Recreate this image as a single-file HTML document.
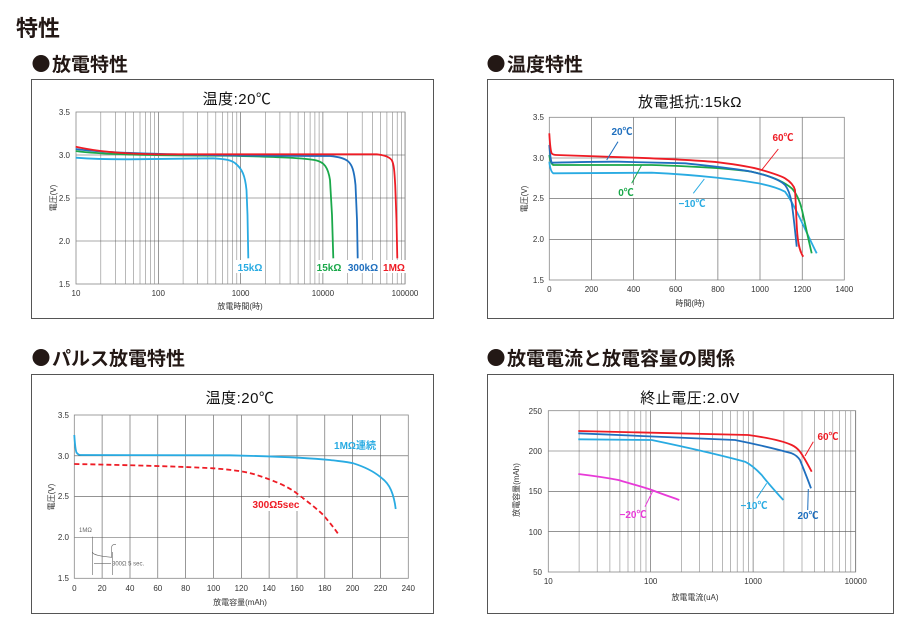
<!DOCTYPE html>
<html><head><meta charset="utf-8"><style>
html,body{margin:0;padding:0;background:#fff;width:907px;height:631px;overflow:hidden}
svg{display:block}
text{font-family:"Liberation Sans","Noto Sans CJK JP",sans-serif}
</style></head><body>
<svg width="907" height="631" viewBox="0 0 907 631" xmlns="http://www.w3.org/2000/svg">
<defs>
<g id="d1" stroke="#888" stroke-width="0.6">
<line x1="24.8" y1="0" x2="24.8" y2="172"/><line x1="39.3" y1="0" x2="39.3" y2="172"/><line x1="49.5" y1="0" x2="49.5" y2="172"/><line x1="57.5" y1="0" x2="57.5" y2="172"/><line x1="64" y1="0" x2="64" y2="172"/><line x1="69.5" y1="0" x2="69.5" y2="172"/><line x1="74.3" y1="0" x2="74.3" y2="172"/><line x1="78.5" y1="0" x2="78.5" y2="172"/><line x1="82.3" y1="0" x2="82.3" y2="172" stroke="#555"/>
</g>
<g id="d4" stroke="#888" stroke-width="0.6">
<line x1="30.8" y1="0" x2="30.8" y2="161.3"/><line x1="48.9" y1="0" x2="48.9" y2="161.3"/><line x1="61.6" y1="0" x2="61.6" y2="161.3"/><line x1="71.6" y1="0" x2="71.6" y2="161.3"/><line x1="79.7" y1="0" x2="79.7" y2="161.3"/><line x1="86.5" y1="0" x2="86.5" y2="161.3"/><line x1="92.5" y1="0" x2="92.5" y2="161.3"/><line x1="97.7" y1="0" x2="97.7" y2="161.3"/><line x1="102.4" y1="0" x2="102.4" y2="161.3" stroke="#555"/>
</g>
</defs>
<text x="16" y="36" font-size="22" font-weight="bold" fill="#231815">特性</text>
<g fill="#231815">
<circle cx="41" cy="63.5" r="8.5"/><circle cx="496" cy="63.5" r="8.5"/><circle cx="41" cy="357.5" r="8.5"/><circle cx="496" cy="357.5" r="8.5"/>
</g>
<text x="52" y="71" font-size="19" font-weight="bold" fill="#231815">放電特性</text>
<text x="507" y="71" font-size="19" font-weight="bold" fill="#231815">温度特性</text>
<text x="52" y="365" font-size="19" font-weight="bold" fill="#231815">パルス放電特性</text>
<text x="507" y="365" font-size="19" font-weight="bold" fill="#231815">放電電流と放電容量の関係</text>

<!-- boxes -->
<rect x="31.5" y="79.5" width="402" height="239" fill="none" stroke="#555" stroke-width="1"/>
<rect x="487.5" y="79.5" width="406" height="239" fill="none" stroke="#555" stroke-width="1"/>
<rect x="31.5" y="374.5" width="402" height="239" fill="none" stroke="#555" stroke-width="1"/>
<rect x="487.5" y="374.5" width="406" height="239" fill="none" stroke="#555" stroke-width="1"/>

<!-- Chart 1 -->
<text x="237" y="104" font-size="15" text-anchor="middle" fill="#111" letter-spacing="0.5">温度:20℃</text>
<g transform="translate(76,112)">
<use href="#d1"/><use href="#d1" x="82.3"/><use href="#d1" x="164.6"/><use href="#d1" x="246.9"/>
<g stroke="#555" stroke-width="0.6"><line x1="0" y1="43" x2="329" y2="43"/><line x1="0" y1="86" x2="329" y2="86"/><line x1="0" y1="129" x2="329" y2="129"/></g>
<rect x="0" y="0" width="329" height="172" fill="none" stroke="#888" stroke-width="0.8"/>
</g>
<g font-size="8" fill="#333" text-anchor="end"><text x="70" y="115">3.5</text><text x="70" y="158">3.0</text><text x="70" y="201">2.5</text><text x="70" y="244">2.0</text><text x="70" y="287">1.5</text></g>
<g font-size="8" fill="#333" text-anchor="middle"><text x="76" y="296">10</text><text x="158.3" y="296">100</text><text x="240.6" y="296">1000</text><text x="322.9" y="296">10000</text><text x="405" y="296">100000</text></g>
<text x="240" y="309" font-size="8" text-anchor="middle" fill="#333">放電時間(時)</text>
<text transform="translate(56,198) rotate(-90)" font-size="8" text-anchor="middle" fill="#333">電圧(V)</text>
<g fill="none" stroke-width="1.8">
<path d="M75.7,157.7 C100,159.5 120,159.3 130,159.3 L213.3,158.3 C225,159 232,160 236,164 C242,169 245,175 246.5,190 L247.5,215 L248.3,258.3" stroke="#29abe2"/>
<path d="M75.7,151 C100,154.5 150,155.5 230,155.7 C280,157 305,158 316.7,160.5 C324,162.5 328,167 330,180 L332,215 L333.3,258.3" stroke="#1aa84a"/>
<path d="M75.7,149 C110,154 200,155.7 330,156 C340,157 345,158.5 348.3,161.5 C352,165 354,170 355.5,185 L357,220 L357.7,258.3" stroke="#1f6fbe"/>
<path d="M75.7,146.7 C100,152 130,154 156.7,154.3 L376.7,154.3 C384,155 389,156.5 391.7,160 C394,164 394.5,172 395.2,185 L396.5,220 L397.3,258.3" stroke="#ee1c25"/>
</g>
<g font-size="10" font-weight="bold" text-anchor="middle">
<rect x="236" y="260" width="28" height="13" fill="#fff"/><text x="250" y="271" fill="#29abe2">15kΩ</text>
<rect x="316" y="260" width="26" height="13" fill="#fff"/><text x="329" y="271" fill="#1aa84a">15kΩ</text>
<rect x="346" y="260" width="34" height="13" fill="#fff"/><text x="363" y="271" fill="#1f6fbe">300kΩ</text>
<rect x="381" y="260" width="26" height="13" fill="#fff"/><text x="394" y="271" fill="#ee1c25">1MΩ</text>
</g>

<!-- Chart 2 -->
<text x="690" y="107" font-size="15" text-anchor="middle" fill="#111" letter-spacing="0.5">放電抵抗:15kΩ</text>
<g transform="translate(549.3,117.3)" stroke="#555" stroke-width="0.6">
<line x1="42.1" y1="0" x2="42.1" y2="162.7"/><line x1="84.3" y1="0" x2="84.3" y2="162.7"/><line x1="126.4" y1="0" x2="126.4" y2="162.7"/><line x1="168.6" y1="0" x2="168.6" y2="162.7"/><line x1="210.7" y1="0" x2="210.7" y2="162.7"/><line x1="252.9" y1="0" x2="252.9" y2="162.7"/>
<line x1="0" y1="40.7" x2="295" y2="40.7"/><line x1="0" y1="81.3" x2="295" y2="81.3"/><line x1="0" y1="122" x2="295" y2="122"/>
<rect x="0" y="0" width="295" height="162.7" fill="none" stroke="#888" stroke-width="0.8"/>
</g>
<g font-size="8" fill="#333" text-anchor="end"><text x="544" y="120">3.5</text><text x="544" y="161">3.0</text><text x="544" y="201">2.5</text><text x="544" y="242">2.0</text><text x="544" y="283">1.5</text></g>
<g font-size="8" fill="#333" text-anchor="middle"><text x="549.3" y="292">0</text><text x="591.4" y="292">200</text><text x="633.6" y="292">400</text><text x="675.7" y="292">600</text><text x="717.9" y="292">800</text><text x="760" y="292">1000</text><text x="802.2" y="292">1200</text><text x="844.3" y="292">1400</text></g>
<text x="690" y="306" font-size="8" text-anchor="middle" fill="#333">時間(時)</text>
<text transform="translate(527,199) rotate(-90)" font-size="8" text-anchor="middle" fill="#333">電圧(V)</text>
<g fill="none" stroke-width="1.8">
<path d="M549.3,161.7 C550,168 551,172 553.3,173.3 L651.7,172.7 C700,175 740,180 758.3,183.3 C772,186 780,189 785,191.7 C795,205 805,230 816.7,253.3" stroke="#29abe2"/>
<path d="M549.3,155 C550,160 551,164 553.3,165 L651.7,165 C700,166.5 730,168.5 751.7,171.7 C772,176 784,182 791.7,188.3 C797,194 800,202 802,210 C806,228 809,242 811.7,253.3" stroke="#1aa84a"/>
<path d="M549.3,145 C550,154 550.5,160 551.7,162.7 C580,162 600,161.5 618.3,161.7 L685,163.3 C710,166 735,168.5 751.7,171.7 C770,176 780,180 785,185 C789,190 790.5,196 791.7,203 C793.5,215 795,230 796.7,246.7" stroke="#1f6fbe"/>
<path d="M549.3,133.3 C550,145 550.5,151 551.7,153.3 C553,155 555,155 556.7,155 L635,157.7 C670,159 700,160.5 718.3,162.3 C740,165 752,167 761.7,170 C772,173 780,175.5 785,178.3 C791,182 794,186 795,190 C796,205 796.3,220 797,230 C798,245 800,252 803.3,256.7" stroke="#ee1c25"/>
</g>
<g stroke-width="1" fill="none">
<line x1="618" y1="141.7" x2="606.7" y2="160" stroke="#1f6fbe"/>
<line x1="631.7" y1="183.3" x2="641.7" y2="165" stroke="#1aa84a"/>
<line x1="693.3" y1="193.3" x2="704.3" y2="179" stroke="#29abe2"/>
<line x1="778.3" y1="149" x2="761.7" y2="170" stroke="#ee1c25"/>
</g>
<g font-size="10" font-weight="bold" text-anchor="middle">
<text x="622" y="135" fill="#1f6fbe">20℃</text>
<text x="783" y="141" fill="#ee1c25">60℃</text>
<rect x="610" y="185" width="34" height="13" fill="#fff"/><text x="626" y="196" fill="#1aa84a">0℃</text>
<text x="692" y="207" fill="#29abe2">−10℃</text>
</g>

<!-- Chart 3 -->
<text x="240" y="403" font-size="15" text-anchor="middle" fill="#111" letter-spacing="0.5">温度:20℃</text>
<g transform="translate(74.3,415)" stroke="#555" stroke-width="0.6">
<line x1="27.8" y1="0" x2="27.8" y2="163.3"/><line x1="55.7" y1="0" x2="55.7" y2="163.3"/><line x1="83.5" y1="0" x2="83.5" y2="163.3"/><line x1="111.3" y1="0" x2="111.3" y2="163.3"/><line x1="139.2" y1="0" x2="139.2" y2="163.3"/><line x1="167" y1="0" x2="167" y2="163.3"/><line x1="194.8" y1="0" x2="194.8" y2="163.3"/><line x1="222.7" y1="0" x2="222.7" y2="163.3"/><line x1="250.5" y1="0" x2="250.5" y2="163.3"/><line x1="278.3" y1="0" x2="278.3" y2="163.3"/><line x1="306.2" y1="0" x2="306.2" y2="163.3"/>
<line x1="0" y1="40.8" x2="334" y2="40.8"/><line x1="0" y1="81.7" x2="334" y2="81.7"/><line x1="0" y1="122.5" x2="334" y2="122.5"/>
<rect x="0" y="0" width="334" height="163.3" fill="none" stroke="#888" stroke-width="0.8"/>
</g>
<g font-size="8" fill="#333" text-anchor="end"><text x="69" y="418">3.5</text><text x="69" y="459">3.0</text><text x="69" y="499">2.5</text><text x="69" y="540">2.0</text><text x="69" y="581">1.5</text></g>
<g font-size="8" fill="#333" text-anchor="middle"><text x="74.3" y="591">0</text><text x="102.1" y="591">20</text><text x="130" y="591">40</text><text x="157.8" y="591">60</text><text x="185.6" y="591">80</text><text x="213.5" y="591">100</text><text x="241.3" y="591">120</text><text x="269.1" y="591">140</text><text x="297" y="591">160</text><text x="324.8" y="591">180</text><text x="352.6" y="591">200</text><text x="380.5" y="591">220</text><text x="408.3" y="591">240</text></g>
<text x="240" y="605" font-size="8" text-anchor="middle" fill="#333">放電容量(mAh)</text>
<text transform="translate(54,497) rotate(-90)" font-size="8" text-anchor="middle" fill="#333">電圧(V)</text>
<path d="M74.3,435 C75,446 75.5,450 76.5,452.5 C78,455 80,455 81.7,455 L230,455.3 C280,456.5 310,458 330,460 C342,461.5 348,462 353.3,463.3 C365,467 373,471 380,476.7 C386,481 389,485 391,490 C394,497 395,503 395.7,509" fill="none" stroke="#29abe2" stroke-width="1.8"/>
<path d="M74.3,464 C150,465.5 190,467 213.3,468.3 C235,470 248,472 256.7,475 C275,481 287,486 296.7,493.3 C308,502 316,508 323.3,515 C330,523 335,529 339.3,535.7" fill="none" stroke="#ee1c25" stroke-width="1.8" stroke-dasharray="5,3"/>
<g font-size="10" font-weight="bold" text-anchor="middle">
<text x="355" y="449" fill="#29abe2">1MΩ連続</text>
<rect x="252" y="498" width="50" height="13" fill="#fff"/><text x="276" y="508" fill="#ee1c25">300Ω5sec</text>
</g>
<g stroke="#666" stroke-width="0.6" fill="none">
<path d="M92.3,536.7 L92.3,552 C93,555 100,556 111.7,557.3 L111.7,546.7 C112,545 114,544.3 116,544.3"/>
<line x1="92.3" y1="552" x2="92.3" y2="575"/><line x1="112.7" y1="552" x2="112.7" y2="575"/>
<line x1="94" y1="563.3" x2="111" y2="563.3"/>
</g>
<text x="79" y="532" font-size="6" fill="#666">1MΩ</text>
<text x="112" y="565.5" font-size="6" fill="#666">300Ω 5 sec.</text>

<!-- Chart 4 -->
<text x="690" y="403" font-size="15" text-anchor="middle" fill="#111" letter-spacing="0.5">終止電圧:2.0V</text>
<g transform="translate(548.3,410.7)">
<use href="#d4"/><use href="#d4" x="102.4"/><use href="#d4" x="204.8"/>
<g stroke="#555" stroke-width="0.6"><line x1="0" y1="40.3" x2="307.4" y2="40.3"/><line x1="0" y1="80.7" x2="307.4" y2="80.7"/><line x1="0" y1="121" x2="307.4" y2="121"/></g>
<rect x="0" y="0" width="307.4" height="161.3" fill="none" stroke="#888" stroke-width="0.8"/>
</g>
<g font-size="8" fill="#333" text-anchor="end"><text x="542" y="414">250</text><text x="542" y="454">200</text><text x="542" y="494">150</text><text x="542" y="535">100</text><text x="542" y="575">50</text></g>
<g font-size="8" fill="#333" text-anchor="middle"><text x="548.3" y="584">10</text><text x="650.7" y="584">100</text><text x="753.1" y="584">1000</text><text x="855.7" y="584">10000</text></g>
<text x="695" y="600" font-size="8" text-anchor="middle" fill="#333">放電電流(uA)</text>
<text transform="translate(519,490) rotate(-90)" font-size="8" text-anchor="middle" fill="#333">放電容量(mAh)</text>
<g fill="none" stroke-width="1.8">
<path d="M578.3,431 L748.3,435 C770,438 783,441 791.7,445 C796,447 798,449 800,451.7 C804,457 808,465 811.7,471.7" stroke="#ee1c25"/>
<path d="M578.3,433.3 L735,440 C760,445 780,450 791.7,453.3 C796,455 798,457 800,460 C804,470 808,480 811,488.3" stroke="#1f6fbe"/>
<path d="M578.3,439.3 L651.7,440 C690,448 720,455 745,461.7 C752,465 757,470 761.7,475 C768,483 776,492 783.3,500" stroke="#29abe2"/>
<path d="M578.3,474 C595,476 608,478 618.3,480 C632,484 643,487 651.7,490 C662,494 671,497 679.3,500" stroke="#e83ad8"/>
</g>
<g stroke-width="1" fill="none">
<line x1="813.3" y1="441.7" x2="805" y2="456" stroke="#ee1c25"/>
<line x1="807.7" y1="510" x2="808.3" y2="489" stroke="#1f6fbe"/>
<line x1="756.7" y1="498.3" x2="766.7" y2="483.3" stroke="#29abe2"/>
<line x1="645" y1="506.7" x2="653.3" y2="490" stroke="#e83ad8"/>
</g>
<g font-size="10" font-weight="bold" text-anchor="middle">
<text x="828" y="440" fill="#ee1c25">60℃</text>
<text x="808" y="519" fill="#1f6fbe">20℃</text>
<text x="754" y="509" fill="#29abe2">−10℃</text>
<text x="633" y="518" fill="#e83ad8">−20℃</text>
</g>
</svg>
</body></html>
